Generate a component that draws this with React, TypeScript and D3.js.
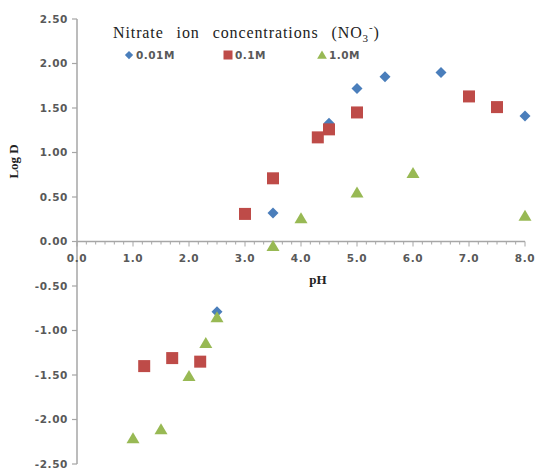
import React from "react";
import * as d3 from "d3";

// pH and log D readings per nitrate concentration
const ph001 = [2.5, 3.5, 4.5, 5.0, 5.5, 6.5, 8.0];
const logD001 = [-0.79, 0.32, 1.33, 1.72, 1.85, 1.9, 1.41];

const ph01 = [1.2, 1.7, 2.2, 3.0, 3.5, 4.3, 4.5, 5.0, 7.0, 7.5];
const logD01 = [-1.4, -1.31, -1.35, 0.31, 0.71, 1.17, 1.26, 1.45, 1.63, 1.51];

const ph1 = [1.0, 1.5, 2.0, 2.3, 2.5, 3.5, 4.0, 5.0, 6.0, 8.0];
const logD1 = [-2.21, -2.11, -1.51, -1.14, -0.85, -0.05, 0.26, 0.55, 0.77, 0.29];

const seriesNames = ["0.01M", "0.1M", "1.0M"];
const yTicks = [2.5, 2.0, 1.5, 1.0, 0.5, 0.0, -0.5, -1.0, -1.5, -2.0, -2.5];
const xTicks = [0, 1, 2, 3, 4, 5, 6, 7, 8];

const W = 538;
const H = 470;
const margin = { left: 77, right: 13, top: 19, bottom: 6 };

const colors = ["#4a7ebb", "#be4b48", "#98b954"];
const axisColor = "#a6a6a6";
const labelColor = "#595959";

// excel style labels use a plain hyphen for negatives
const fmtY = (v: number) => d3.format(".2f")(v).replace("\u2212", "-");

function Marker({ kind, x, y }: { kind: number; x: number; y: number }) {
  if (kind === 0) {
    const s = 5.5;
    return (
      <path
        d={`M${x},${y - s}L${x + s},${y}L${x},${y + s}L${x - s},${y}Z`}
        fill={colors[0]}
      />
    );
  }
  if (kind === 1) {
    return <rect x={x - 6} y={y - 6} width={12} height={12} fill={colors[1]} />;
  }
  return (
    <path
      d={`M${x},${y - 6}L${x + 6.5},${y + 5}L${x - 6.5},${y + 5}Z`}
      fill={colors[2]}
    />
  );
}

export default function App() {
  const x = d3.scaleLinear().domain([0, 8]).range([margin.left, W - margin.right]);
  const y = d3.scaleLinear().domain([-2.5, 2.5]).range([H - margin.bottom, margin.top]);

  const minor = d3.range(0, 8 * 6 + 1).map((i) => i / 6);

  const series = [
    { xs: ph001, ys: logD001 },
    { xs: ph01, ys: logD01 },
    { xs: ph1, ys: logD1 },
  ];

  const tickFont = {
    fontFamily: "DejaVu Sans",
    fontSize: 10.5,
    fontWeight: 600,
    letterSpacing: 0.6,
    fill: labelColor,
  } as const;

  return (
    <svg
      width={W}
      height={H}
      style={{ position: "absolute", left: 0, top: 0, background: "#fff" }}
    >
      {/* y axis */}
      <line x1={x(0)} x2={x(0)} y1={y(2.5)} y2={y(-2.5)} stroke={axisColor} strokeWidth={1.5} />
      {yTicks.map((t) => (
        <g key={t}>
          <line x1={x(0) - 5} x2={x(0)} y1={y(t)} y2={y(t)} stroke={axisColor} strokeWidth={1.2} />
          <text x={x(0) - 9} y={y(t)} dy="0.35em" textAnchor="end" {...tickFont}>
            {fmtY(t)}
          </text>
        </g>
      ))}

      {/* x axis at log D = 0 */}
      <line x1={x(0)} x2={x(8)} y1={y(0)} y2={y(0)} stroke={axisColor} strokeWidth={1.5} />
      {minor.map((m, i) => (
        <line
          key={i}
          x1={x(m)}
          x2={x(m)}
          y1={y(0)}
          y2={y(0) + (i % 6 === 0 ? 5 : 3)}
          stroke={axisColor}
          strokeWidth={1}
        />
      ))}
      {xTicks.map((t) => (
        <text key={t} x={x(t)} y={y(0) + 20} textAnchor="middle" {...tickFont}>
          {d3.format(".1f")(t)}
        </text>
      ))}

      {/* axis titles */}
      <text
        x={318}
        y={y(0) + 42}
        textAnchor="middle"
        fontFamily="Liberation Serif"
        fontWeight={700}
        fontSize={13}
        fill="#222"
      >
        pH
      </text>
      <text
        transform={`translate(18,${y(0.9)}) rotate(-90)`}
        textAnchor="middle"
        fontFamily="Liberation Serif"
        fontWeight={700}
        fontSize={13}
        fill="#222"
      >
        Log D
      </text>

      {/* points */}
      {series.map((s, k) =>
        s.xs.map((px, i) => <Marker key={`${k}-${i}`} kind={k} x={x(px)} y={y(s.ys[i])} />)
      )}

      {/* legend */}
      <text
        x={113}
        y={38}
        fontFamily="Liberation Serif"
        fontSize={16}
        letterSpacing={0.9}
        wordSpacing={8}
        fill="#222"
      >
        Nitrate ion concentrations (NO
        <tspan fontSize={11} dy={4}>3</tspan>
        <tspan fontSize={11} dy={-11}>-</tspan>
        <tspan dy={7}>)</tspan>
      </text>
      {seriesNames.map((name, k) => {
        const lx = [129, 228, 322][k];
        return (
          <g key={name}>
            <g transform={`translate(${lx},${55}) scale(0.75)`}>
              <Marker kind={k} x={0} y={0} />
            </g>
            <text
              x={lx + 7}
              y={55}
              dy="0.35em"
              fontFamily="DejaVu Sans"
              fontSize={10.5}
              fontWeight={600}
              letterSpacing={0.5}
              fill={labelColor}
            >
              {name}
            </text>
          </g>
        );
      })}
    </svg>
  );
}
